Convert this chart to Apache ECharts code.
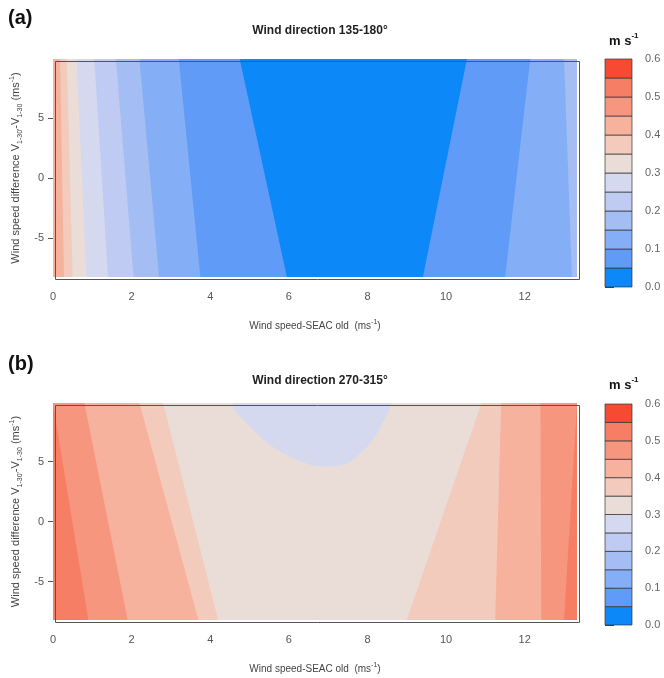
<!DOCTYPE html>
<html>
<head>
<meta charset="utf-8">
<script src="https://cdn.jsdelivr.net/npm/echarts@6/dist/echarts.min.js"></script>
<style>
html, body { margin: 0; background: #fff; }
#main { width: 664px; height: 678px; }
</style>
</head>
<body>
<div id="main"></div>
<script>
// axis ranges (same for both panels)
var xMax = 13.33, yMin = -8.2, yMax = 9.9;
var xTicks = [0, 2, 4, 6, 8, 10, 12];
var yTicks = [-5, 0, 5];

// colour bar levels, m s-1
var bandLows = [0, 0.05, 0.1, 0.15, 0.2, 0.25, 0.3, 0.35, 0.4, 0.45, 0.5, 0.55];
var barTicks = [0, 0.1, 0.2, 0.3, 0.4, 0.5, 0.6];
var bandColors = ['#0d88f8', '#5f9bf7', '#84aef5', '#a4bdf3', '#bfcbf2', '#d5d9ef',
  '#eadcd6', '#f3cbbd', '#f7b29e', '#f7967e', '#f67e64', '#f64a32'];

// (a) 135-180: contour level and x where it meets the top / bottom edge
var levelsA = [0.40, 0.35, 0.30, 0.25, 0.20, 0.15, 0.10, 0.05];
var leftTopA = [0.18, 0.35, 0.6, 1.05, 1.6, 2.2, 3.2, 4.75];
var leftBotA = [0.28, 0.5, 0.85, 1.4, 2.05, 2.7, 3.75, 5.95];
var rightTopA = [null, null, null, null, null, 13.0, 12.14, 10.53];
var rightBotA = [null, null, null, null, null, 13.2, 11.5, 9.41];

// (b) 270-315
var levelsB = [0.50, 0.45, 0.40, 0.35];
var leftTopB = [0.0, 0.8, 2.2, 2.8];
var leftBotB = [0.9, 1.9, 3.7, 4.2];
var rightTopB = [13.33, 12.4, 11.4, 10.9];
var rightBotB = [13.0, 12.42, 11.25, 9.0];
// 0.30 contour, closed against the top edge
var bumpX = [4.6, 5.2, 5.85, 6.5, 7.0, 7.5, 8.0, 8.35, 8.55];
var bumpY = [9.9, 7.3, 5.7, 4.8, 4.6, 4.9, 6.3, 8.0, 9.9];

var font = 'Liberation Sans, Arial, sans-serif';

function bandColor(level) {
  // colour of the band just below a level
  return bandColors[Math.round(level / 0.05) - 1];
}

function contourSeries(g, lv, lt, lb, rt, rb) {
  return {
    type: 'custom', xAxisIndex: g, yAxisIndex: g, silent: true, clip: true,
    data: lv.map(function (v, i) { return [lt[i], lb[i]]; }),
    renderItem: function (params, api) {
      var i = params.dataIndex;
      var pts = [[lt[i], yMax],
        [rt[i] == null ? xMax : rt[i], yMax],
        [rb[i] == null ? xMax : rb[i], yMin],
        [lb[i], yMin]];
      return {
        type: 'polygon',
        shape: { points: pts.map(function (p) { return api.coord(p); }) },
        style: { fill: bandColor(lv[i]) }
      };
    }
  };
}

function backgroundSeries(g, level) {
  return {
    type: 'custom', xAxisIndex: g, yAxisIndex: g, silent: true,
    data: [[0, yMin]],
    renderItem: function (params, api) {
      var a = api.coord([0, yMax]), b = api.coord([xMax, yMin]);
      return { type: 'rect', shape: { x: a[0], y: a[1], width: b[0] - a[0], height: b[1] - a[1] },
        style: { fill: bandColor(level) } };
    }
  };
}

function colorBarSeries(g) {
  return {
    type: 'custom', xAxisIndex: g, yAxisIndex: g, silent: true,
    data: bandLows.map(function (v) { return [0, v]; }),
    renderItem: function (params, api) {
      var lo = bandLows[params.dataIndex];
      var a = api.coord([0, lo + 0.05]), b = api.coord([1, lo]);
      return { type: 'rect', shape: { x: a[0], y: a[1], width: b[0] - a[0], height: b[1] - a[1] },
        style: { fill: bandColors[params.dataIndex], stroke: '#333', lineWidth: 0.7 } };
    }
  };
}

var labelStyle = { color: '#555', fontSize: 11, fontFamily: font };
var nameRich = {
  s: { fontSize: 7, verticalAlign: 'bottom', lineHeight: 15, color: '#444', fontFamily: font },
  p: { fontSize: 7, verticalAlign: 'top', lineHeight: 15, color: '#444', fontFamily: font }
};

function plotX(g) {
  return {
    type: 'value', gridIndex: g, min: 0, max: xMax,
    name: 'Wind speed-SEAC old  (ms{p|-1})', nameLocation: 'middle', nameGap: 42,
    nameTextStyle: { fontSize: 10, color: '#444', fontFamily: font, lineHeight: 15, rich: nameRich },
    axisLine: { show: false }, splitLine: { show: false },
    axisTick: { show: true, length: 5, lineStyle: { color: '#555' }, customValues: xTicks },
    axisLabel: Object.assign({ margin: 14, customValues: xTicks }, labelStyle)
  };
}

function plotY(g) {
  return {
    type: 'value', gridIndex: g, min: yMin, max: yMax,
    name: 'Wind speed difference V{s|1-30\'}-V{s|1-30} (ms{p|-1})',
    nameLocation: 'middle', nameGap: 26, nameRotate: 90,
    nameTextStyle: { fontSize: 11, color: '#444', fontFamily: font, lineHeight: 15, rich: nameRich },
    axisLine: { show: false }, splitLine: { show: false },
    axisTick: { show: true, length: 5, lineStyle: { color: '#555' }, customValues: yTicks },
    axisLabel: Object.assign({ margin: 9, customValues: yTicks }, labelStyle)
  };
}

function barX(g) {
  return { type: 'value', gridIndex: g, min: 0, max: 1, show: false };
}

function barY(g) {
  return {
    type: 'value', gridIndex: g, min: 0, max: 0.6, interval: 0.1, position: 'right',
    axisLine: { show: false }, splitLine: { show: false },
    axisTick: { show: true, length: 9, lineStyle: { color: '#444' } },
    axisLabel: Object.assign({ margin: 13, formatter: function (v) { return v.toFixed(1); } },
      labelStyle, { fontSize: 11, color: '#666' })
  };
}

var chart = echarts.init(document.getElementById('main'), null, { renderer: 'canvas' });

var option = {
  backgroundColor: '#fff',
  animation: false,
  title: [
    { text: 'Wind direction 135-180°', left: 315, top: 20, textAlign: 'center',
      textStyle: { fontSize: 12, fontWeight: 'bold', color: '#222', fontFamily: font } },
    { text: 'Wind direction 270-315°', left: 315, top: 370, textAlign: 'center',
      textStyle: { fontSize: 12, fontWeight: 'bold', color: '#222', fontFamily: font } }
  ],
  grid: [
    { left: 53, top: 59, width: 524, height: 218 },
    { left: 53, top: 403, width: 524, height: 217 },
    { left: 605, top: 59, width: 27, height: 228 },
    { left: 605, top: 404, width: 27, height: 221 }
  ],
  xAxis: [plotX(0), plotX(1), barX(2), barX(3)],
  yAxis: [plotY(0), plotY(1), barY(2), barY(3)],
  series: [
    backgroundSeries(0, 0.45),
    contourSeries(0, levelsA, leftTopA, leftBotA, rightTopA, rightBotA),
    backgroundSeries(1, 0.55),
    contourSeries(1, levelsB, leftTopB, leftBotB, rightTopB, rightBotB),
    {
      type: 'custom', xAxisIndex: 1, yAxisIndex: 1, silent: true, clip: true,
      data: bumpX.map(function (x, i) { return [x, bumpY[i]]; }),
      renderItem: function (params, api) {
        if (params.dataIndex !== 0) return null;
        var pts = bumpX.map(function (x, i) { return api.coord([x, bumpY[i]]); });
        return { type: 'polygon', shape: { points: pts, smooth: 0.3 }, style: { fill: bandColor(0.30) } };
      }
    },
    colorBarSeries(2),
    colorBarSeries(3)
  ],
  graphic: [
    { type: 'text', left: 8, top: 8, style: { text: '(a)', font: 'bold 20px ' + font, fill: '#111' } },
    { type: 'text', left: 8, top: 354, style: { text: '(b)', font: 'bold 20px ' + font, fill: '#111' } },
    { type: 'text', left: 609, top: 32, style: { text: '{m|m s}{p|-1}', rich: {
      m: { fontSize: 13, fontWeight: 'bold', fontFamily: font, fill: '#111', lineHeight: 16, verticalAlign: 'bottom' },
      p: { fontSize: 8, fontWeight: 'bold', fontFamily: font, fill: '#111', lineHeight: 16, verticalAlign: 'top' } } } },
    { type: 'text', left: 609, top: 376, style: { text: '{m|m s}{p|-1}', rich: {
      m: { fontSize: 13, fontWeight: 'bold', fontFamily: font, fill: '#111', lineHeight: 16, verticalAlign: 'bottom' },
      p: { fontSize: 8, fontWeight: 'bold', fontFamily: font, fill: '#111', lineHeight: 16, verticalAlign: 'top' } } } },
    // plot frames
    { type: 'rect', left: 53, top: 59, z: 100, shape: { width: 524, height: 218 },
      style: { fill: null, stroke: '#555', lineWidth: 1 } },
    { type: 'rect', left: 53, top: 403, z: 100, shape: { width: 524, height: 217 },
      style: { fill: null, stroke: '#555', lineWidth: 1 } }
  ]
};

chart.setOption(option);
</script>
</body>
</html>
